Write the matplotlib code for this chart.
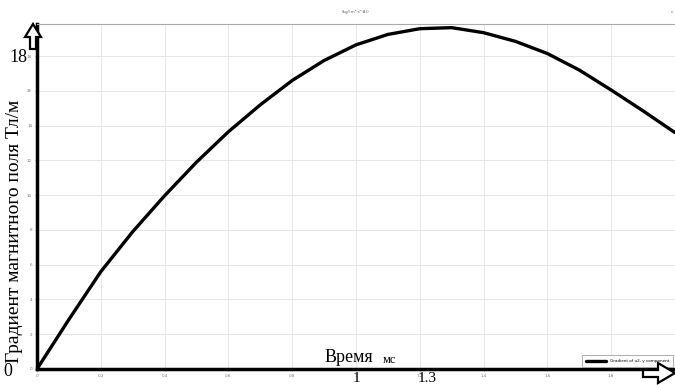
import numpy as np
import matplotlib
matplotlib.use("Agg")
import matplotlib.pyplot as plt
from matplotlib.patches import Polygon

# values
time_ms = [0, 0.1, 0.2, 0.3, 0.4, 0.5, 0.6, 0.7, 0.8, 0.9, 1.0,
           1.1, 1.2, 1.3, 1.4, 1.5, 1.6, 1.7, 1.8, 1.9, 2.0]
gradient = [0, 2.85, 5.6, 7.9, 9.97, 11.9, 13.65, 15.2, 16.6, 17.75, 18.65,
            19.25, 19.58, 19.64, 19.35, 18.85, 18.15, 17.2, 16.05, 14.85, 13.6]
x_ticks = [0, 0.2, 0.4, 0.6, 0.8, 1.0, 1.2, 1.4, 1.6, 1.8]
x_tick_labels = ["0", "0.2", "0.4", "0.6", "0.8", "1", "1.2", "1.4", "1.6", "1.8"]
y_ticks = [0, 2, 4, 6, 8, 10, 12, 14, 16, 18]

W, H = 675, 385
fig = plt.figure(figsize=(W / 100, H / 100), dpi=100)
ax = fig.add_axes([37 / W, (H - 369) / H, (W - 37) / W, (369 - 24) / H])

ax.plot(time_ms, gradient, color="black", lw=2.4, solid_capstyle="round",
        solid_joinstyle="round", label="Gradient of u2, y component")
ax.set_xlim(0, 2.0)
ax.set_ylim(0, 19.85)
ax.set_xticks(x_ticks)
ax.set_xticklabels(x_tick_labels)
ax.set_yticks(y_ticks)
ax.grid(True, color="#e6e6e6", lw=0.7)
ax.tick_params(labelsize=3, colors="#777777", length=1.5, width=0.5, pad=2)

ax.spines["right"].set_visible(False)
ax.spines["top"].set_color("#aaaaaa")
ax.spines["top"].set_linewidth(0.8)
for s in ("left", "bottom"):
    ax.spines[s].set_color("black")
    ax.spines[s].set_linewidth(2.5)

ax.set_title("(kg/(m\u00b2\u00b7s\u00b2\u00b7A))", fontsize=3, color="#666666", pad=8)
leg = ax.legend(loc="lower right", fontsize=3, frameon=True, fancybox=False,
                handlelength=5, borderpad=0.9, bbox_to_anchor=(1.0, 0.0))
leg.get_frame().set_edgecolor("#888888")
leg.get_frame().set_linewidth(0.6)

serif = "Liberation Serif"
fig.text(15 / W, 1 - 231 / H, "Градиент магнитного поля Тл/м", rotation=90,
         ha="center", va="center", fontsize=14, family=serif)
fig.text(18 / W, 1 - 57 / H, "18", ha="center", va="center", fontsize=13, family=serif)
fig.text(8 / W, 1 - 371 / H, "0", ha="center", va="center", fontsize=13, family=serif)
fig.text(325 / W, 1 - 358 / H, "Время", ha="left", va="center", fontsize=13, family=serif)
fig.text(383 / W, 1 - 360 / H, "мс", ha="left", va="center", fontsize=9, family=serif)
fig.text(356 / W, 1 - 378 / H, "1", ha="center", va="center", fontsize=11, family=serif)
fig.text(427 / W, 1 - 379 / H, "1.3", ha="center", va="center", fontsize=11, family=serif)
fig.text(672 / W, 1 - 12 / H, "c", ha="center", va="center", fontsize=3, color="#666666")


def px(points):
    return [(x / W, 1 - y / H) for x, y in points]


up_arrow = px([(30, 49), (36, 49), (36, 37), (41, 37), (33, 24), (25, 37), (30, 37)])
right_arrow = px([(643, 370), (658, 370), (658, 363), (675, 373), (658, 383),
                  (658, 377), (643, 377)])
for pts in (up_arrow, right_arrow):
    fig.patches.append(Polygon(pts, closed=True, facecolor="white", edgecolor="black",
                               lw=1.6, transform=fig.transFigure, zorder=10))

fig.savefig("out.png", dpi=100)
